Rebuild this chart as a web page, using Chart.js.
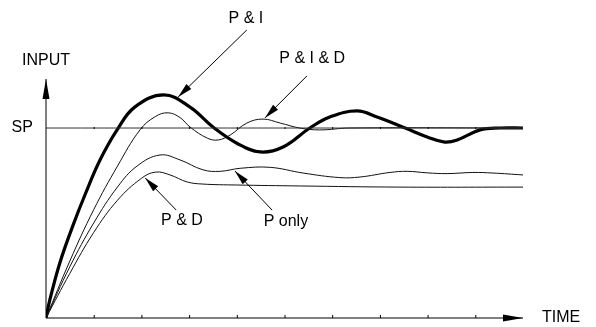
<!DOCTYPE html>
<html>
<head>
<meta charset="utf-8">
<script src="https://cdn.jsdelivr.net/npm/chart.js@4/dist/chart.umd.min.js"></script>
<style>
  html, body { margin: 0; padding: 0; background: #fff; }
  canvas { display: block; }
</style>
</head>
<body>
<canvas id="pidChart" width="596" height="327"></canvas>
<script>
// time axis runs 0..10, input axis in units of the set point (SP = 1)
const timeMax = 10;
const inputMax = 1.258;
const setPoint = 1;

const piTime  = [0, 0.08, 0.29, 0.57, 0.82, 1.13, 1.49, 1.86, 2.47, 3.02, 3.5, 4.0, 4.49, 4.97, 5.53, 5.95, 6.52, 6.94, 7.53, 7.99, 8.36, 8.62, 9.1, 9.52, 10];
const piInput = [0, 0.095, 0.29, 0.49, 0.65, 0.83, 0.99, 1.11, 1.174, 1.11, 1.005, 0.92, 0.874, 0.9, 1.0, 1.058, 1.09, 1.058, 1.0, 0.953, 0.926, 0.937, 0.99, 1.0, 1.0];

const pidTime  = [0, 0.5, 1.0, 1.5, 1.97, 2.29, 2.56, 2.81, 3.02, 3.38, 3.61, 3.86, 4.21, 4.55, 4.91, 5.32, 5.74, 6.37, 10];
const pidInput = [0, 0.3, 0.57, 0.8, 0.99, 1.06, 1.08, 1.055, 1.005, 0.947, 0.937, 0.963, 1.026, 1.047, 1.026, 1.0, 0.99, 1.0, 1.0];

const pTime  = [0, 0.5, 1.0, 1.5, 1.91, 2.39, 2.81, 3.29, 3.65, 4.07, 4.7, 5.39, 6.16, 6.58, 7.21, 7.57, 7.99, 8.41, 8.95, 9.37, 10];
const pInput = [0, 0.27, 0.5, 0.69, 0.8, 0.858, 0.832, 0.78, 0.772, 0.788, 0.793, 0.763, 0.739, 0.742, 0.766, 0.772, 0.764, 0.76, 0.766, 0.763, 0.753];

const pdTime  = [0, 0.5, 1.0, 1.5, 2.0, 2.3, 2.6, 2.96, 3.29, 4.0, 5.32, 7.42, 10];
const pdInput = [0, 0.235, 0.45, 0.62, 0.735, 0.768, 0.753, 0.716, 0.705, 0.7, 0.695, 0.689, 0.689];

const spTime  = [0, timeMax];
const spInput = [setPoint, setPoint];

const timeTicks = [1, 2, 3, 4, 5, 6, 7, 8, 9];

// callouts: text position and leader arrow, in chart units
const callouts = [
  { text: 'P & I',     tx: 4.19, ty: 1.574, from: [4.21, 1.516], to: [2.77, 1.163] },
  { text: 'P & I & D', tx: 5.58, ty: 1.368, from: [5.47, 1.274], to: [4.59, 1.053] },
  { text: 'P & D',     tx: 2.85, ty: 0.511, from: [2.73, 0.568], to: [2.08, 0.737] },
  { text: 'P only',    tx: 5.03, ty: 0.505, from: [4.74, 0.568], to: [3.96, 0.774] }
];
const axisLabels = [
  { text: 'INPUT', tx: 0, ty: 1.353 },
  { text: 'SP',    tx: -0.5, ty: 1 },
  { text: 'TIME',  tx: 10.8, ty: 0 }
];

const toPoints = (xs, ys) => xs.map((x, i) => ({ x, y: ys[i] }));

const series = (data, width, color) => ({
  data,
  borderColor: color,
  borderWidth: width,
  pointRadius: 0,
  fill: false,
  tension: 0.4
});

const arrowHead = (ctx, x0, y0, x1, y1, len, half) => {
  const a = Math.atan2(y1 - y0, x1 - x0);
  ctx.beginPath();
  ctx.moveTo(x1, y1);
  ctx.lineTo(x1 - len * Math.cos(a) + half * Math.sin(a), y1 - len * Math.sin(a) - half * Math.cos(a));
  ctx.lineTo(x1 - len * Math.cos(a) - half * Math.sin(a), y1 - len * Math.sin(a) + half * Math.cos(a));
  ctx.closePath();
  ctx.fill();
};

const decorations = {
  id: 'decorations',
  afterDraw(chart) {
    const { ctx } = chart;
    const xs = chart.scales.x, ys = chart.scales.y;
    const px = v => xs.getPixelForValue(v);
    const py = v => ys.getPixelForValue(v);
    const x0 = px(0), y0 = py(0);

    ctx.save();
    ctx.strokeStyle = '#000';
    ctx.fillStyle = '#000';
    ctx.lineWidth = 1;

    // axes with arrows
    ctx.beginPath();
    ctx.moveTo(x0, y0);
    ctx.lineTo(x0, py(inputMax));
    ctx.moveTo(x0, y0);
    ctx.lineTo(px(timeMax), y0);
    ctx.stroke();
    arrowHead(ctx, x0, y0, x0, py(inputMax), 20, 3.5);
    arrowHead(ctx, x0, y0, px(timeMax), y0, 20, 3.5);

    // small ticks on the time axis and on the SP line
    ctx.beginPath();
    timeTicks.forEach(t => {
      ctx.moveTo(px(t) + 0.5, y0);
      ctx.lineTo(px(t) + 0.5, y0 - 3);
      ctx.moveTo(px(t) + 0.5, py(setPoint) - 1);
      ctx.lineTo(px(t) + 0.5, py(setPoint) + 1);
    });
    ctx.stroke();

    ctx.font = '16px "Liberation Sans", Arial, sans-serif';
    ctx.textAlign = 'center';
    ctx.textBaseline = 'middle';
    axisLabels.forEach(l => ctx.fillText(l.text, px(l.tx), py(l.ty)));

    callouts.forEach(c => {
      ctx.fillText(c.text, px(c.tx), py(c.ty));
      const ax = px(c.from[0]), ay = py(c.from[1]);
      const bx = px(c.to[0]), by = py(c.to[1]);
      ctx.beginPath();
      ctx.moveTo(ax, ay);
      ctx.lineTo(bx, by);
      ctx.stroke();
      arrowHead(ctx, ax, ay, bx, by, 15, 3.5);
    });
    ctx.restore();
  }
};

new Chart(document.getElementById('pidChart'), {
  type: 'line',
  data: {
    datasets: [
      series(toPoints(spTime, spInput), 1, '#333'),
      series(toPoints(pdTime, pdInput), 1, '#111'),
      series(toPoints(pTime, pInput), 1, '#111'),
      series(toPoints(pidTime, pidInput), 1, '#111'),
      series(toPoints(piTime, piInput), 3.2, '#000')
    ]
  },
  options: {
    responsive: false,
    animation: false,
    devicePixelRatio: 1,
    layout: { padding: { left: 46, right: 73, top: 79, bottom: 9 } },
    plugins: { legend: { display: false }, tooltip: { enabled: false } },
    scales: {
      x: { type: 'linear', min: 0, max: timeMax, display: false },
      y: { type: 'linear', min: 0, max: inputMax, display: false }
    }
  },
  plugins: [decorations]
});
</script>
</body>
</html>
